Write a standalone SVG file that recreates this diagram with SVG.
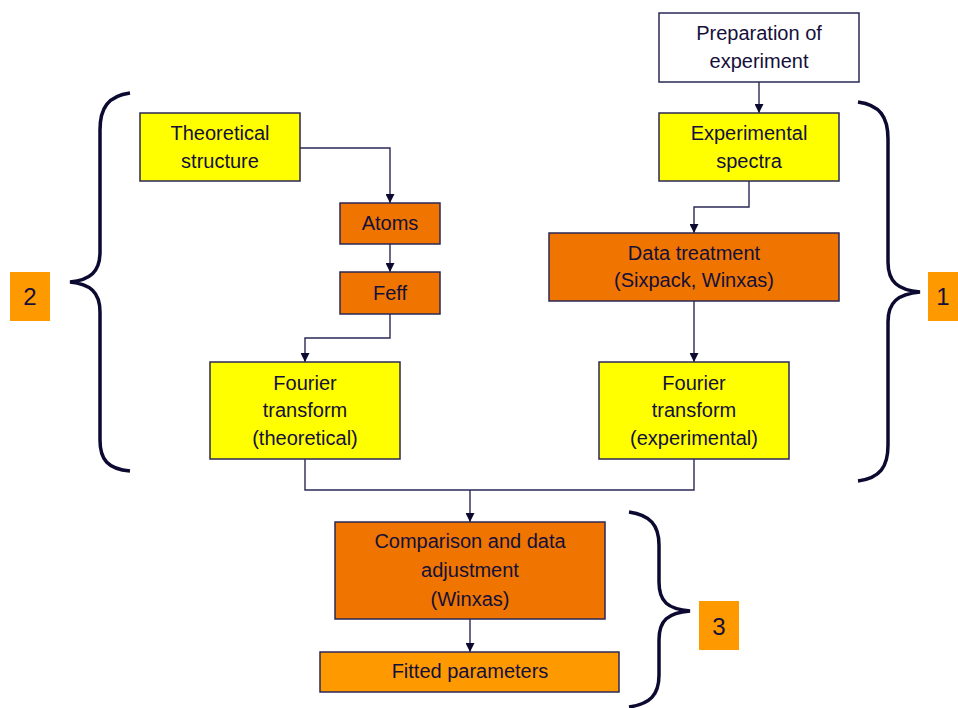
<svg xmlns="http://www.w3.org/2000/svg" width="958" height="708" viewBox="0 0 958 708">
<style>
.n{stroke:#2b2855;stroke-width:1.5}
.y{fill:#ffff00}.o{fill:#ef7500}.f{fill:#ff9900}.w{fill:#ffffff}
text{font-family:"Liberation Sans",Arial,sans-serif;font-size:20px;fill:#14103a;text-anchor:middle}
.lb{font-size:24px}
.c{fill:none;stroke:#2b2855;stroke-width:1.4}
.b{fill:none;stroke:#0c0a30;stroke-width:3.5}
</style>
<defs>
<marker id="a" viewBox="0 0 10 10" refX="10" refY="5" markerWidth="10" markerHeight="9" markerUnits="userSpaceOnUse" orient="auto">
<path d="M0,0 L10,5 L0,10 z" fill="#0c0a30"/>
</marker>
</defs>
<rect width="958" height="708" fill="#ffffff"/>
<g id="connectors">
<path class="c" d="M759,82 V113" marker-end="url(#a)"/>
<path class="c" d="M749,181 V207 H694 V233" marker-end="url(#a)"/>
<path class="c" d="M694,301 V362" marker-end="url(#a)"/>
<path class="c" d="M300,148 H390 V203" marker-end="url(#a)"/>
<path class="c" d="M390,244 V272" marker-end="url(#a)"/>
<path class="c" d="M390,314 V338 H305 V362" marker-end="url(#a)"/>
<path class="c" d="M305,459 V490 H694 V459"/>
<path class="c" d="M470,490 V522" marker-end="url(#a)"/>
<path class="c" d="M470,619 V652" marker-end="url(#a)"/>
</g>
<g id="braces">
<path class="b" d="M130,93 C108,96 100,108 100,130 V252 C100,272 90,280 70,282 C90,284 100,292 100,312 V440 C100,460 108,469 130,471"/>
<path class="b" d="M858,102 C880,105 888,117 888,139 V262 C888,282 898,290 920,292 C898,294 888,302 888,322 V445 C888,467 880,478 858,481"/>
<path class="b" d="M629,512 C650,515 659,525 659,545 V582 C659,602 668,609 690,611 C668,613 659,620 659,640 V675 C659,695 650,704 629,707"/>
</g>
<g id="label2"><rect class="f" x="10" y="272" width="40" height="49"/><text class="lb" x="30" y="305">2</text></g>
<g id="label1"><rect class="f" x="928" y="272" width="32" height="49"/><text class="lb" x="943" y="305">1</text></g>
<g id="label3"><rect class="f" x="699" y="601" width="40" height="49"/><text class="lb" x="719" y="635">3</text></g>
<g id="prep"><rect class="n w" x="659" y="13" width="200" height="69"/><text x="759" y="40">Preparation of</text><text x="759" y="68">experiment</text></g>
<g id="expspectra"><rect class="n y" x="659" y="113" width="180" height="68"/><text x="749" y="140">Experimental</text><text x="749" y="168">spectra</text></g>
<g id="datatreat"><rect class="n o" x="549" y="233" width="290" height="68"/><text x="694" y="260">Data treatment</text><text x="694" y="287">(Sixpack, Winxas)</text></g>
<g id="fourierexp"><rect class="n y" x="599" y="362" width="190" height="97"/><text x="694" y="390">Fourier</text><text x="694" y="417">transform</text><text x="694" y="445">(experimental)</text></g>
<g id="theostruct"><rect class="n y" x="140" y="113" width="160" height="68"/><text x="220" y="140">Theoretical</text><text x="220" y="168">structure</text></g>
<g id="atoms"><rect class="n o" x="340" y="203" width="100" height="41"/><text x="390" y="230">Atoms</text></g>
<g id="feff"><rect class="n o" x="340" y="272" width="100" height="42"/><text x="390" y="300">Feff</text></g>
<g id="fouriertheo"><rect class="n y" x="210" y="362" width="190" height="97"/><text x="305" y="390">Fourier</text><text x="305" y="417">transform</text><text x="305" y="445">(theoretical)</text></g>
<g id="comparison"><rect class="n o" x="335" y="522" width="270" height="97"/><text x="470" y="548">Comparison and data</text><text x="470" y="577">adjustment</text><text x="470" y="606">(Winxas)</text></g>
<g id="fitted"><rect class="n f" x="320" y="652" width="299" height="40"/><text x="470" y="678">Fitted parameters</text></g>
</svg>
